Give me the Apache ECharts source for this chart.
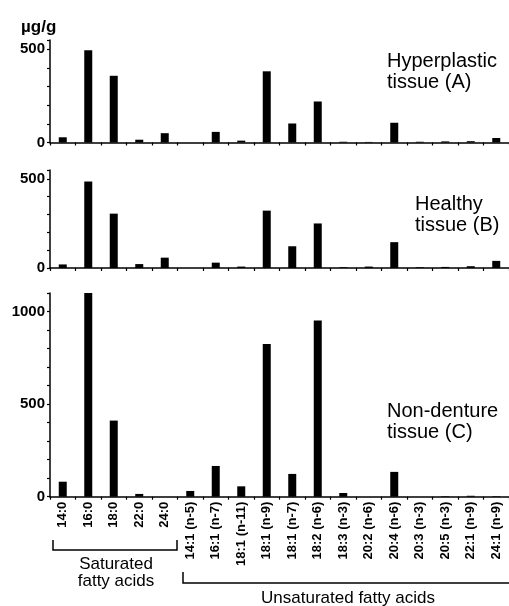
<!DOCTYPE html>
<html>
<head>
<meta charset="utf-8">
<script src="https://cdn.jsdelivr.net/npm/echarts@6/dist/echarts.min.js"></script>
<style>
  html, body { margin: 0; padding: 0; background: #fff; }
  #chart-wrapper { width: 509px; height: 606px; }
</style>
</head>
<body>
<div id="chart-wrapper"></div>
<script>
// fatty acids on the x axis
const categories = [
  "14:0", "16:0", "18:0", "22:0", "24:0",
  "14:1 (n-5)", "16:1 (n-7)", "18:1 (n-11)", "18:1 (n-9)", "18:1 (n-7)",
  "18:2 (n-6)", "18:3 (n-3)", "20:2 (n-6)", "20:4 (n-6)", "20:3 (n-3)",
  "20:5 (n-3)", "22:1 (n-9)", "24:1 (n-9)",
];

// µg/g
const hyperplastic = [28, 495, 358, 15, 50, 0, 57, 10, 382, 102, 220, 4, 3, 106, 4, 6, 7, 24];
const healthy = [20, 486, 305, 22, 58, 0, 30, 8, 322, 122, 250, 4, 8, 145, 4, 6, 10, 40];
const nonDenture = [81, 1100, 411, 15, 0, 31, 166, 56, 824, 123, 951, 20, 0, 134, 0, 3, 5, 3];

const panelMax = [550, 550, 1100];
const labeledTicks = [0, 500, 1000];

const font = "'Liberation Sans', Arial, sans-serif";
const ink = "#000";

const chartDom = document.getElementById("chart-wrapper");
const chart = echarts.init(chartDom, null, { renderer: "canvas" });

const grids = [
  { left: 50, right: 0, top: 40, height: 102.5 },
  { left: 50, right: 0, top: 170, height: 98 },
  { left: 50, right: 0, top: 293, height: 203.7 },
];

const xAxes = grids.map((g, i) => ({
  type: "category",
  gridIndex: i,
  data: categories,
  boundaryGap: true,
  axisLine: { lineStyle: { color: ink, width: 1.5 } },
  axisTick: { show: true, length: 3, lineStyle: { color: ink, width: 1.2 } },
  axisLabel: {
    show: i === 2,
    rotate: 90,
    interval: 0,
    margin: 5,
    color: ink,
    fontFamily: font,
    fontWeight: "bold",
    fontSize: 13,
  },
}));

const yAxes = grids.map((g, i) => ({
  type: "value",
  gridIndex: i,
  min: 0,
  max: panelMax[i],
  interval: 100,
  splitLine: { show: false },
  axisLine: { show: true, lineStyle: { color: ink, width: 1.5 } },
  axisTick: { show: true, length: 3, lineStyle: { color: ink, width: 1.2 } },
  axisLabel: {
    margin: 5,
    color: ink,
    fontFamily: font,
    fontWeight: "bold",
    fontSize: 15,
    formatter: (v) => (labeledTicks.includes(v) ? String(v) : ""),
  },
}));

const seriesList = [hyperplastic, healthy, nonDenture].map((values, i) => ({
  type: "bar",
  xAxisIndex: i,
  yAxisIndex: i,
  data: values,
  barWidth: 8,
  itemStyle: { color: ink },
  silent: true,
}));

const panelText = (x, y, text) => ({
  type: "text",
  left: x,
  top: y,
  style: {
    text: text,
    font: "20px " + font,
    fill: ink,
    lineHeight: 21,
  },
});

const option = {
  backgroundColor: "#fff",
  animation: false,
  grid: grids,
  xAxis: xAxes,
  yAxis: yAxes,
  series: seriesList,
  graphic: [
    {
      type: "text",
      left: 21,
      top: 19,
      style: { text: "µg/g", font: "bold 17px " + font, fill: ink },
    },
    panelText(387, 51, "Hyperplastic\ntissue (A)"),
    panelText(415, 194, "Healthy\ntissue (B)"),
    panelText(387, 401, "Non-denture\ntissue (C)"),
    // bracket under the saturated acids
    {
      type: "polyline",
      shape: { points: [[53, 540], [53, 550], [177, 550], [177, 540]] },
      style: { stroke: ink, lineWidth: 1.5, fill: null },
    },
    {
      type: "text",
      x: 116,
      y: 556,
      style: {
        text: "Saturated\nfatty acids",
        font: "17px " + font,
        fill: ink,
        align: "center",
        lineHeight: 17,
      },
    },
    // bracket under the unsaturated acids
    {
      type: "polyline",
      shape: { points: [[183, 572], [183, 583], [509, 583]] },
      style: { stroke: ink, lineWidth: 1.5, fill: null },
    },
    {
      type: "text",
      x: 348,
      y: 590,
      style: {
        text: "Unsaturated fatty acids",
        font: "17px " + font,
        fill: ink,
        align: "center",
      },
    },
  ],
};

chart.setOption(option);
</script>
</body>
</html>
